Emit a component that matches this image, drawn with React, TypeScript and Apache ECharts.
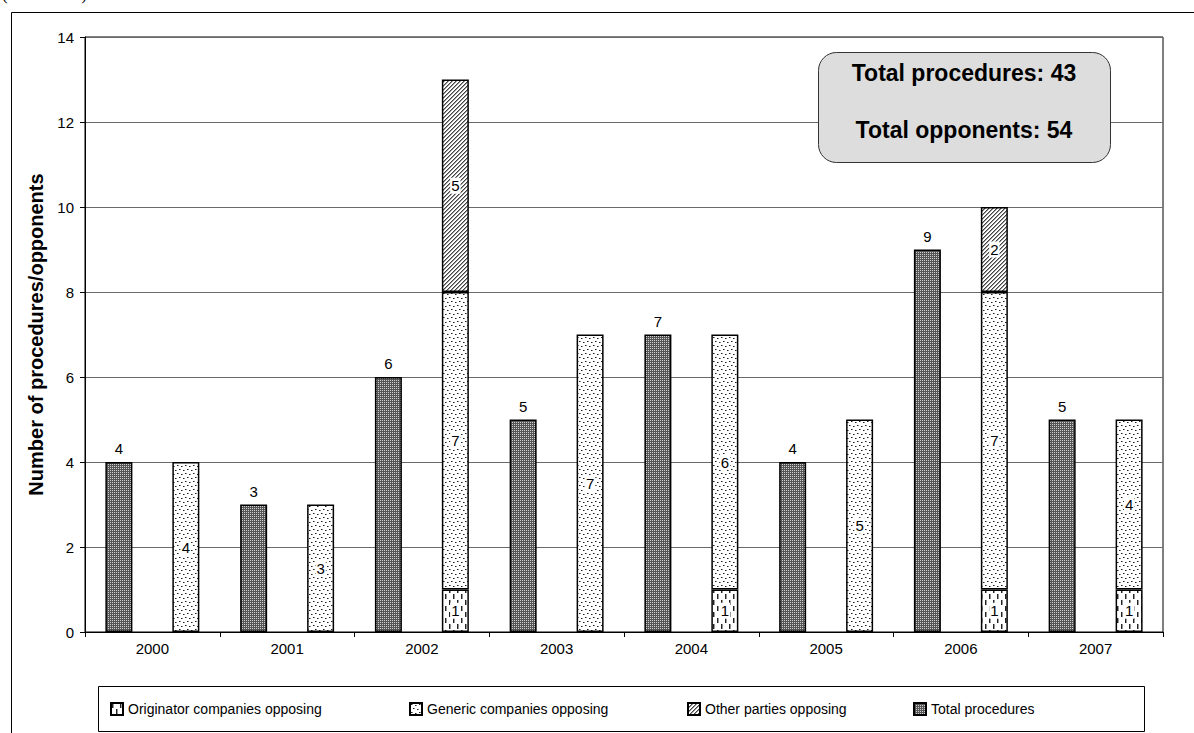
import React, { useEffect, useRef } from "react";
import * as echarts from "echarts";

const years = ["2000", "2001", "2002", "2003", "2004", "2005", "2006", "2007"];
const totalProcedures = [4, 3, 6, 5, 7, 4, 9, 5];
const originatorOpposing = [0, 0, 1, 0, 1, 0, 1, 1];
const genericOpposing = [4, 3, 7, 7, 6, 5, 7, 4];
const otherOpposing = [0, 0, 5, 0, 0, 0, 2, 0];
const yMin = 0;
const yMax = 14;
const yInterval = 2;
const seriesNames = [
  "Originator companies opposing",
  "Generic companies opposing",
  "Other parties opposing",
  "Total procedures",
];
const yAxisTitle = "Number of procedures/opponents";
const headerText = "(2000-2007)";

const FONT = "Arial, 'Liberation Sans', sans-serif";

function makePattern(w: number, h: number, draw: (ctx: CanvasRenderingContext2D) => void) {
  const c = document.createElement("canvas");
  c.width = w;
  c.height = h;
  const ctx = c.getContext("2d")!;
  draw(ctx);
  return { image: c, repeat: "repeat" } as any;
}

const blankZero = (a: number[]) => a.map((v) => (v === 0 ? "-" : v));

export default function App() {
  const ref = useRef<HTMLDivElement>(null);
  useEffect(() => {
    document.body.style.margin = "0";
    const chart = echarts.init(ref.current!, null, { renderer: "svg" });

    const darkPattern = makePattern(2, 2, (ctx) => {
      ctx.fillStyle = "#555555";
      ctx.fillRect(0, 0, 2, 2);
      ctx.fillStyle = "#d0d0d0";
      ctx.fillRect(0, 0, 1, 1);
    });
    const dotPattern = makePattern(8, 8, (ctx) => {
      ctx.fillStyle = "#ffffff";
      ctx.fillRect(0, 0, 8, 8);
      ctx.fillStyle = "#222222";
      [[1, 1], [5, 2], [3, 5], [7, 6]].forEach(([x, y]) => ctx.fillRect(x, y, 1, 1));
      ctx.fillStyle = "#888888";
      [[2, 1], [6, 2], [4, 5], [0, 6]].forEach(([x, y]) => ctx.fillRect(x, y, 1, 1));
    });
    const hatchPattern = makePattern(4, 4, (ctx) => {
      ctx.fillStyle = "#ffffff";
      ctx.fillRect(0, 0, 4, 4);
      for (let x = 0; x < 4; x++) {
        for (let y = 0; y < 4; y++) {
          const k = (x + y) % 4;
          if (k === 0) {
            ctx.fillStyle = "#444444";
            ctx.fillRect(x, y, 1, 1);
          } else if (k === 1) {
            ctx.fillStyle = "#999999";
            ctx.fillRect(x, y, 1, 1);
          }
        }
      }
    });
    const dashPattern = makePattern(8, 12, (ctx) => {
      ctx.fillStyle = "#ffffff";
      ctx.fillRect(0, 0, 8, 12);
      ctx.fillStyle = "#222222";
      ctx.fillRect(1, 0, 1, 5);
      ctx.fillRect(5, 6, 1, 5);
      ctx.fillStyle = "#999999";
      ctx.fillRect(2, 0, 1, 5);
      ctx.fillRect(6, 6, 1, 5);
    });

    const border = { borderColor: "#000", borderWidth: 1.5 };
    const insideLabel = {
      show: true,
      position: "inside",
      color: "#000",
      fontFamily: FONT,
      fontSize: 15,
      backgroundColor: "#fff",
      padding: [1, 1, 0, 1],
    };

    const sum = (a: number[]) => a.reduce((s, v) => s + v, 0);
    const totalProc = sum(totalProcedures);
    const totalOpp = sum(originatorOpposing) + sum(genericOpposing) + sum(otherOpposing);

    const legendLefts = [105, 404, 682, 908];

    chart.setOption({
      animation: false,
      grid: { left: 85, right: 31, top: 37, bottom: 101, show: true, borderColor: "#000", borderWidth: 1 },
      xAxis: {
        type: "category",
        data: years,
        boundaryGap: true,
        axisLine: { lineStyle: { color: "#000", width: 1 } },
        axisTick: { show: true, length: 5, lineStyle: { color: "#000" } },
        axisLabel: { color: "#000", fontFamily: FONT, fontSize: 15, margin: 9 },
      },
      yAxis: {
        type: "value",
        min: yMin,
        max: yMax,
        interval: yInterval,
        name: yAxisTitle,
        nameLocation: "middle",
        nameGap: 38,
        nameTextStyle: { color: "#000", fontFamily: FONT, fontSize: 20, fontWeight: "bold" },
        axisLine: { show: true, lineStyle: { color: "#000", width: 1 } },
        axisTick: { show: true, length: 5, lineStyle: { color: "#000" } },
        axisLabel: { color: "#000", fontFamily: FONT, fontSize: 15, margin: 11 },
        splitLine: { show: true, lineStyle: { color: "#6a6a6a", width: 1 } },
      },
      legend: seriesNames.map((name, i) => ({
        data: [name],
        left: legendLefts[i],
        top: 697,
        itemWidth: 12,
        itemHeight: 12,
        icon: "rect",
        textStyle: { color: "#000", fontFamily: FONT, fontSize: 14 },
      })),
      series: [
        {
          name: seriesNames[3],
          type: "bar",
          data: totalProcedures,
          barWidth: 27,
          barGap: "148%",
          itemStyle: { color: darkPattern, ...border },
          label: {
            show: true,
            position: "top",
            distance: 6,
            color: "#000",
            fontFamily: FONT,
            fontSize: 15,
          },
        },
        {
          name: seriesNames[0],
          type: "bar",
          stack: "opp",
          data: blankZero(originatorOpposing),
          barWidth: 27,
          itemStyle: { color: dashPattern, ...border },
          label: insideLabel,
        },
        {
          name: seriesNames[1],
          type: "bar",
          stack: "opp",
          data: blankZero(genericOpposing),
          barWidth: 27,
          itemStyle: { color: dotPattern, ...border },
          label: insideLabel,
        },
        {
          name: seriesNames[2],
          type: "bar",
          stack: "opp",
          data: blankZero(otherOpposing),
          barWidth: 27,
          itemStyle: { color: hatchPattern, ...border },
          label: insideLabel,
        },
      ],
      graphic: [
        {
          type: "text",
          left: 2,
          top: -14,
          style: { text: headerText, font: "17px 'Liberation Serif', serif", fill: "#000" },
          silent: true,
        },
        {
          type: "rect",
          shape: { x: 11.5, y: 12.5, width: 1220, height: 800 },
          style: { fill: "none", stroke: "#000", lineWidth: 1 },
          silent: true,
          z: -10,
        },
        {
          type: "rect",
          shape: { x: 98.5, y: 686.5, width: 1046, height: 45 },
          style: { fill: "none", stroke: "#000", lineWidth: 1 },
          silent: true,
        },
        {
          type: "rect",
          shape: { x: 818.5, y: 52.5, width: 292, height: 110, r: 18 },
          style: { fill: "#dddddd", stroke: "#333", lineWidth: 1 },
          z: 100,
          silent: true,
        },
        {
          type: "text",
          x: 964,
          y: 73,
          z: 101,
          style: {
            text: `Total procedures: ${totalProc}`,
            font: `bold 23px ${FONT}`,
            fill: "#000",
            textAlign: "center",
            textVerticalAlign: "middle",
          },
          silent: true,
        },
        {
          type: "text",
          x: 964,
          y: 130,
          z: 101,
          style: {
            text: `Total opponents: ${totalOpp}`,
            font: `bold 23px ${FONT}`,
            fill: "#000",
            textAlign: "center",
            textVerticalAlign: "middle",
          },
          silent: true,
        },
      ],
    });
    return () => chart.dispose();
  }, []);
  return <div ref={ref} style={{ width: 1194, height: 733 }} />;
}
